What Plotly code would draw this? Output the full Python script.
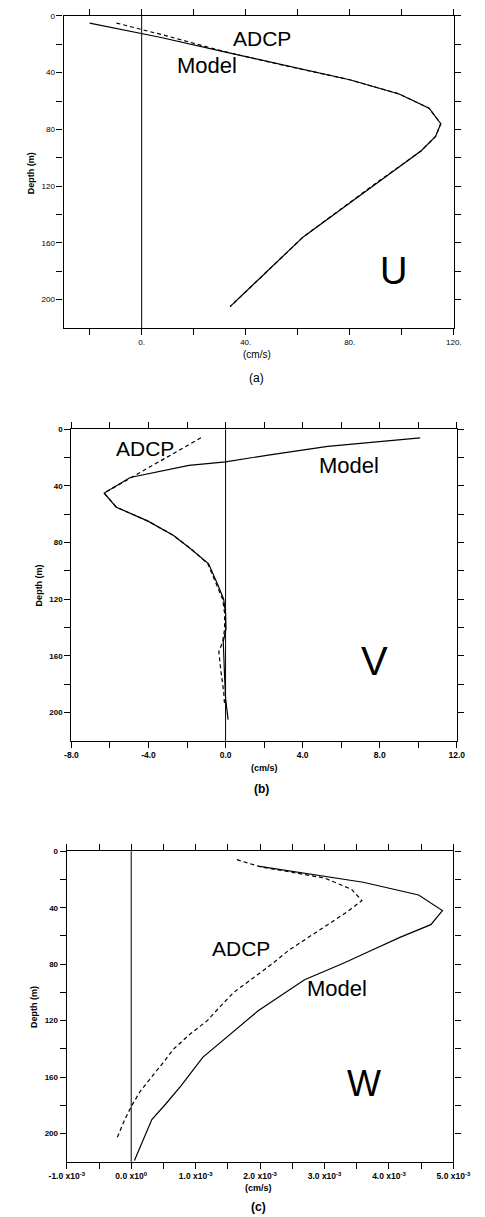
import plotly.graph_objects as go

W_PX, H_PX = 485, 1217

# ---------------- U component (cm/s) ----------------
u_model_depth = [5, 15, 25, 35, 45, 55, 65, 76, 85, 95, 105, 118, 156, 205]
u_model = [-20, 7, 31, 55, 80, 99, 110.5, 115, 113, 107.5, 100, 90, 62, 34]
u_adcp_depth = [5, 14, 25, 35, 45, 55, 65, 76, 85, 95, 105, 118, 156, 205]
u_adcp = [-9.7, 9.5, 31.5, 55, 80, 99, 110.5, 115, 113, 107.5, 100, 90, 62, 34]

# ---------------- V component (cm/s) ----------------
v_model_depth = [6, 12, 18, 23, 25.5, 34, 45, 55, 65, 75, 85, 95, 110, 120,
                 130, 141, 150, 160, 175, 190, 205]
v_model = [10.1, 5.3, 2.3, 0.0, -1.9, -4.95, -6.3, -5.67, -4.0, -2.7, -1.75,
           -0.88, -0.4, -0.1, 0.0, 0.02, -0.12, -0.08, -0.05, 0.0, 0.13]
v_adcp_depth = [6, 34, 45, 55, 65, 75, 85, 95, 110, 120, 130, 141, 150, 157,
                170, 185, 195]
v_adcp = [-1.28, -4.85, -6.3, -5.67, -4.0, -2.7, -1.75, -0.92, -0.45, -0.15,
          -0.05, -0.05, -0.15, -0.35, -0.25, -0.1, -0.05]

# ---------------- W component (cm/s) ----------------
w_model_depth = [10.6, 22, 31, 42, 52, 61, 71, 79, 91, 113, 146, 166, 179,
                 190, 219]
w_model = [1.97e-3, 3.6e-3, 4.46e-3, 4.83e-3, 4.65e-3, 4.17e-3, 3.69e-3,
           3.31e-3, 2.69e-3, 1.97e-3, 1.11e-3, 0.775e-3, 0.535e-3, 0.32e-3,
           0.05e-3]
w_adcp_depth = [6, 11, 19, 27, 35, 43, 52, 61, 70, 80, 90, 100, 110, 120,
                130, 140, 150, 160, 170, 180, 190, 203]
w_adcp = [1.64e-3, 2.0e-3, 3.0e-3, 3.42e-3, 3.58e-3, 3.35e-3, 3.05e-3,
          2.75e-3, 2.45e-3, 2.18e-3, 1.88e-3, 1.59e-3, 1.38e-3, 1.18e-3,
          0.90e-3, 0.66e-3, 0.49e-3, 0.32e-3, 0.14e-3, 0.01e-3, -0.10e-3,
          -0.22e-3]

# ---------------- axis ticks (labelled majors, unlabelled minors) ----------------
depth_ticks = [0, 40, 80, 120, 160, 200]
depth_minor = [20, 60, 100, 140, 180]
depth_text = [str(d) for d in depth_ticks]
depth_text_bold = [f"<b>{d}</b>" for d in depth_ticks]

u_ticks = [0, 40, 80, 120]
u_minor = [-20, 20, 60, 100]
u_text = ["0.", "40.", "80.", "120."]

v_ticks = [-8, -4, 0, 4, 8, 12]
v_minor = [-6, -2, 2, 6, 10]
v_text = ["<b>-8.0</b>", "<b>-4.0</b>", "<b>0.0</b>", "<b>4.0</b>",
          "<b>8.0</b>", "<b>12.0</b>"]

w_ticks = [-1.0e-3, 0.0, 1.0e-3, 2.0e-3, 3.0e-3, 4.0e-3, 5.0e-3]
w_minor = [-0.5e-3, 0.5e-3, 1.5e-3, 2.5e-3, 3.5e-3, 4.5e-3]
w_text = ["<b>-1.0 x10<sup>-3</sup></b>", "<b>0.0 x10<sup>0</sup></b>",
          "<b>1.0 x10<sup>-3</sup></b>", "<b>2.0 x10<sup>-3</sup></b>",
          "<b>3.0 x10<sup>-3</sup></b>", "<b>4.0 x10<sup>-3</sup></b>",
          "<b>5.0 x10<sup>-3</sup></b>"]

FONT = "Liberation Sans, Arial, sans-serif"
LINE = dict(color="black", width=1.2)
DASH = dict(color="black", width=1.2, dash="4px,3px")


def px_x(x):
    return x / W_PX


def px_y(y):
    return 1 - y / H_PX


fig = go.Figure()

panels = [
    ("x", "y", u_model_depth, u_model, u_adcp_depth, u_adcp),
    ("x2", "y2", v_model_depth, v_model, v_adcp_depth, v_adcp),
    ("x3", "y3", w_model_depth, w_model, w_adcp_depth, w_adcp),
]
for xa, ya, md, mv, ad, av in panels:
    fig.add_trace(go.Scatter(x=mv, y=md, mode="lines", line=LINE,
                             xaxis=xa, yaxis=ya, name="Model",
                             showlegend=False))
    fig.add_trace(go.Scatter(x=av, y=ad, mode="lines", line=DASH,
                             xaxis=xa, yaxis=ya, name="ADCP",
                             showlegend=False))
    # vertical zero line
    fig.add_shape(type="line", xref=xa, yref=f"{ya} domain", x0=0, x1=0,
                  y0=0, y1=1, line=dict(color="black", width=1))

MINOR = dict(ticks="outside", ticklen=6, tickwidth=1, tickcolor="black",
             showgrid=False)


def axis(domain, rng, ticks, text, minor, anchor, size):
    return dict(domain=domain, range=rng, anchor=anchor, tickmode="array",
                tickvals=ticks, ticktext=text, ticks="outside", ticklen=6,
                tickwidth=1, tickcolor="black", showline=True,
                linecolor="black", linewidth=1.3, mirror="ticks",
                showgrid=False, zeroline=False,
                minor=dict(tickvals=minor, **MINOR),
                tickfont=dict(family=FONT, size=size, color="black"))


fig.update_layout(
    width=W_PX, height=H_PX,
    margin=dict(l=0, r=0, t=0, b=0),
    paper_bgcolor="white", plot_bgcolor="white",
    showlegend=False,
    xaxis=axis([px_x(49.3), px_x(470.7)], [-30, 120], u_ticks, u_text,
               u_minor, "y", 8),
    yaxis=axis([px_y(325), px_y(12)], [220, 0], depth_ticks, depth_text,
               depth_minor, "x", 8),
    xaxis2=axis([px_x(57.7), px_x(474)], [-8, 12], v_ticks, v_text,
                v_minor, "y2", 8.5),
    yaxis2=axis([px_y(739.3), px_y(426.7)], [220, 0], depth_ticks,
                depth_text_bold, depth_minor, "x2", 8),
    xaxis3=axis([px_x(52.7), px_x(470.3)], [-1.0e-3, 5.0e-3], w_ticks, w_text,
                w_minor, "y3", 8.5),
    yaxis3=axis([px_y(1161.7), px_y(850)], [220, 0], depth_ticks,
                depth_text_bold, depth_minor, "x3", 8),
)

# curve labels and component letters, in data coordinates
labels = [
    ("x", "y", 46.2, 16, "ADCP", 21),
    ("x", "y", 25.2, 35, "Model", 22),
    ("x", "y", 97, 179.5, "U", 38),
    ("x2", "y2", -4.2, 13.6, "ADCP", 21),
    ("x2", "y2", 6.4, 25.4, "Model", 22),
    ("x2", "y2", 7.74, 163.8, "V", 40),
    ("x3", "y3", 1.71e-3, 69, "ADCP", 21),
    ("x3", "y3", 3.19e-3, 97.2, "Model", 22),
    ("x3", "y3", 3.62e-3, 164.3, "W", 36),
]
for xr, yr, x, y, t, s in labels:
    fig.add_annotation(xref=xr, yref=yr, x=x, y=y, text=t, showarrow=False,
                       font=dict(family=FONT, size=s, color="black"))

# axis titles and panel captions
captions = [
    (15, 170, "<b>Depth (m)</b>", 9, -90),
    (258, 352, "(cm/s)", 10, 0),
    (258, 375, "(a)", 12, 0),
    (23, 583, "<b>Depth (m)</b>", 9, -90),
    (266.7, 766.7, "<b>(cm/s)</b>", 9, 0),
    (263, 787.7, "<b>(b)</b>", 12, 0),
    (18, 1006.7, "<b>Depth (m)</b>", 9, -90),
    (260, 1188, "<b>(cm/s)</b>", 9, 0),
    (260, 1207, "<b>(c)</b>", 12, 0),
]
for x, y, t, s, ang in captions:
    fig.add_annotation(xref="paper", yref="paper", x=px_x(x), y=px_y(y),
                       text=t, showarrow=False, textangle=ang,
                       xanchor="center", yanchor="middle",
                       font=dict(family=FONT, size=s, color="black"))

fig.write_html("out.html")
